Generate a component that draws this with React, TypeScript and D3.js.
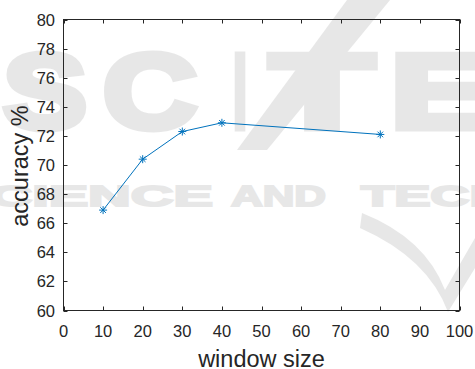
import React, { useRef, useEffect } from 'react';
import * as d3 from 'd3';

const windowSizes = [10, 20, 30, 40, 80];
const accuracy = [66.9, 70.4, 72.3, 72.9, 72.1];
const xTicks = [0, 10, 20, 30, 40, 50, 60, 70, 80, 90, 100];
const yTicks = [60, 62, 64, 66, 68, 70, 72, 74, 76, 78, 80];

// watermark pieces: [text, left x, width]
const bigLetters: [string, number, number][] = [["S", 3, 84], ["C", 103, 94], ["I", 233, 14], ["T", 270, 104], ["E", 390, 104]];
const smallWords: [string, number, number][] = [["SCIENCE", -50, 263], ["AND", 231, 95], ["TECHNOLOGY", 361, 383]];

const App = () => {
    const svgRef = useRef<SVGSVGElement>(null);
    const width = 475;
    const height = 369;

    useEffect(() => {
        document.body.style.margin = "0";
        const svg = d3.select(svgRef.current);
        svg.selectAll("*").remove();

        const font = "'Liberation Sans', Arial, Helvetica, sans-serif";
        const axisColor = "#262626";

        // plot box
        const left = 63.5, right = 459.5, top = 19.5, bottom = 310.5;

        const x = d3.scaleLinear().domain([0, 100]).range([left, right]);
        const y = d3.scaleLinear().domain([60, 80]).range([bottom, top]);

        svg.append("rect").attr("width", width).attr("height", height).attr("fill", "#fff");

        // faint publisher watermark behind the plot
        const wm = svg.append("g").attr("fill", "#000").attr("stroke", "#000").attr("opacity", 0.09)
            .attr("font-family", font).attr("font-weight", "bold");
        bigLetters.forEach(([t, lx, w]) => {
            wm.append("text")
                .attr("x", lx).attr("y", 128)
                .attr("font-size", 106)
                .attr("stroke-width", 7)
                .attr("textLength", w).attr("lengthAdjust", "spacingAndGlyphs")
                .text(t);
        });
        wm.append("path")
            .attr("stroke", "none")
            .attr("d", "M347,0 L390,0 L267,150 L237,150 Z");
        smallWords.forEach(([t, lx, w]) => {
            wm.append("text")
                .attr("x", lx).attr("y", 206)
                .attr("font-size", 30)
                .attr("stroke-width", 2)
                .attr("textLength", w).attr("lengthAdjust", "spacingAndGlyphs")
                .text(t);
        });
        wm.append("path")
            .attr("stroke", "none")
            .attr("d", "M362,213 Q425,238 445,290 L475,238 L475,268 L448,312 Q428,258 360,228 Z");

        // ticks (inward, all four sides)
        const tickLen = 4;
        const g = svg.append("g").attr("stroke", axisColor).attr("stroke-width", 1);
        xTicks.forEach(t => {
            g.append("line").attr("x1", Math.round(x(t)) + 0.5).attr("x2", Math.round(x(t)) + 0.5)
                .attr("y1", bottom).attr("y2", bottom - tickLen);
            g.append("line").attr("x1", Math.round(x(t)) + 0.5).attr("x2", Math.round(x(t)) + 0.5)
                .attr("y1", top).attr("y2", top + tickLen);
        });
        yTicks.forEach(t => {
            g.append("line").attr("y1", Math.round(y(t)) + 0.5).attr("y2", Math.round(y(t)) + 0.5)
                .attr("x1", left).attr("x2", left + tickLen);
            g.append("line").attr("y1", Math.round(y(t)) + 0.5).attr("y2", Math.round(y(t)) + 0.5)
                .attr("x1", right).attr("x2", right - tickLen);
        });
        g.append("rect")
            .attr("x", left).attr("y", top)
            .attr("width", right - left).attr("height", bottom - top)
            .attr("fill", "none");

        // tick labels
        svg.append("g").selectAll("text").data(xTicks).enter().append("text")
            .attr("x", d => x(d)).attr("y", 337)
            .attr("text-anchor", "middle")
            .attr("font-family", font).attr("font-size", 16.5).attr("fill", axisColor)
            .text(d => d);
        svg.append("g").selectAll("text").data(yTicks).enter().append("text")
            .attr("x", 55).attr("y", d => y(d) + 6)
            .attr("text-anchor", "end")
            .attr("font-family", font).attr("font-size", 16.5).attr("fill", axisColor)
            .text(d => d);

        // axis labels
        svg.append("text")
            .attr("x", (left + right) / 2).attr("y", 367)
            .attr("text-anchor", "middle")
            .attr("font-family", font).attr("font-size", 23.5).attr("fill", axisColor)
            .text("window size");
        svg.append("text")
            .attr("transform", `translate(28,${(top + bottom) / 2 + 1}) rotate(-90)`)
            .attr("text-anchor", "middle")
            .attr("font-family", font).attr("font-size", 23.5).attr("fill", axisColor)
            .text("accuracy %");

        // data line
        const pts = windowSizes.map((w, i) => [w, accuracy[i]] as [number, number]);
        const line = d3.line<[number, number]>().x(d => x(d[0])).y(d => y(d[1]));
        svg.append("path")
            .datum(pts)
            .attr("fill", "none")
            .attr("stroke", "#0072bd")
            .attr("stroke-width", 1)
            .attr("d", line);

        // asterisk markers
        const s = 4;
        const star = `M${-s},0L${s},0M0,${-s}L0,${s}M${-s * 0.7},${-s * 0.7}L${s * 0.7},${s * 0.7}M${-s * 0.7},${s * 0.7}L${s * 0.7},${-s * 0.7}`;
        svg.append("g").selectAll("path").data(pts).enter().append("path")
            .attr("transform", d => `translate(${x(d[0])},${y(d[1])})`)
            .attr("d", star)
            .attr("fill", "none")
            .attr("stroke", "#0072bd")
            .attr("stroke-width", 1);
    }, []);

    return <svg ref={svgRef} width={width} height={height} style={{ display: 'block' }}></svg>;
};

export default App;
